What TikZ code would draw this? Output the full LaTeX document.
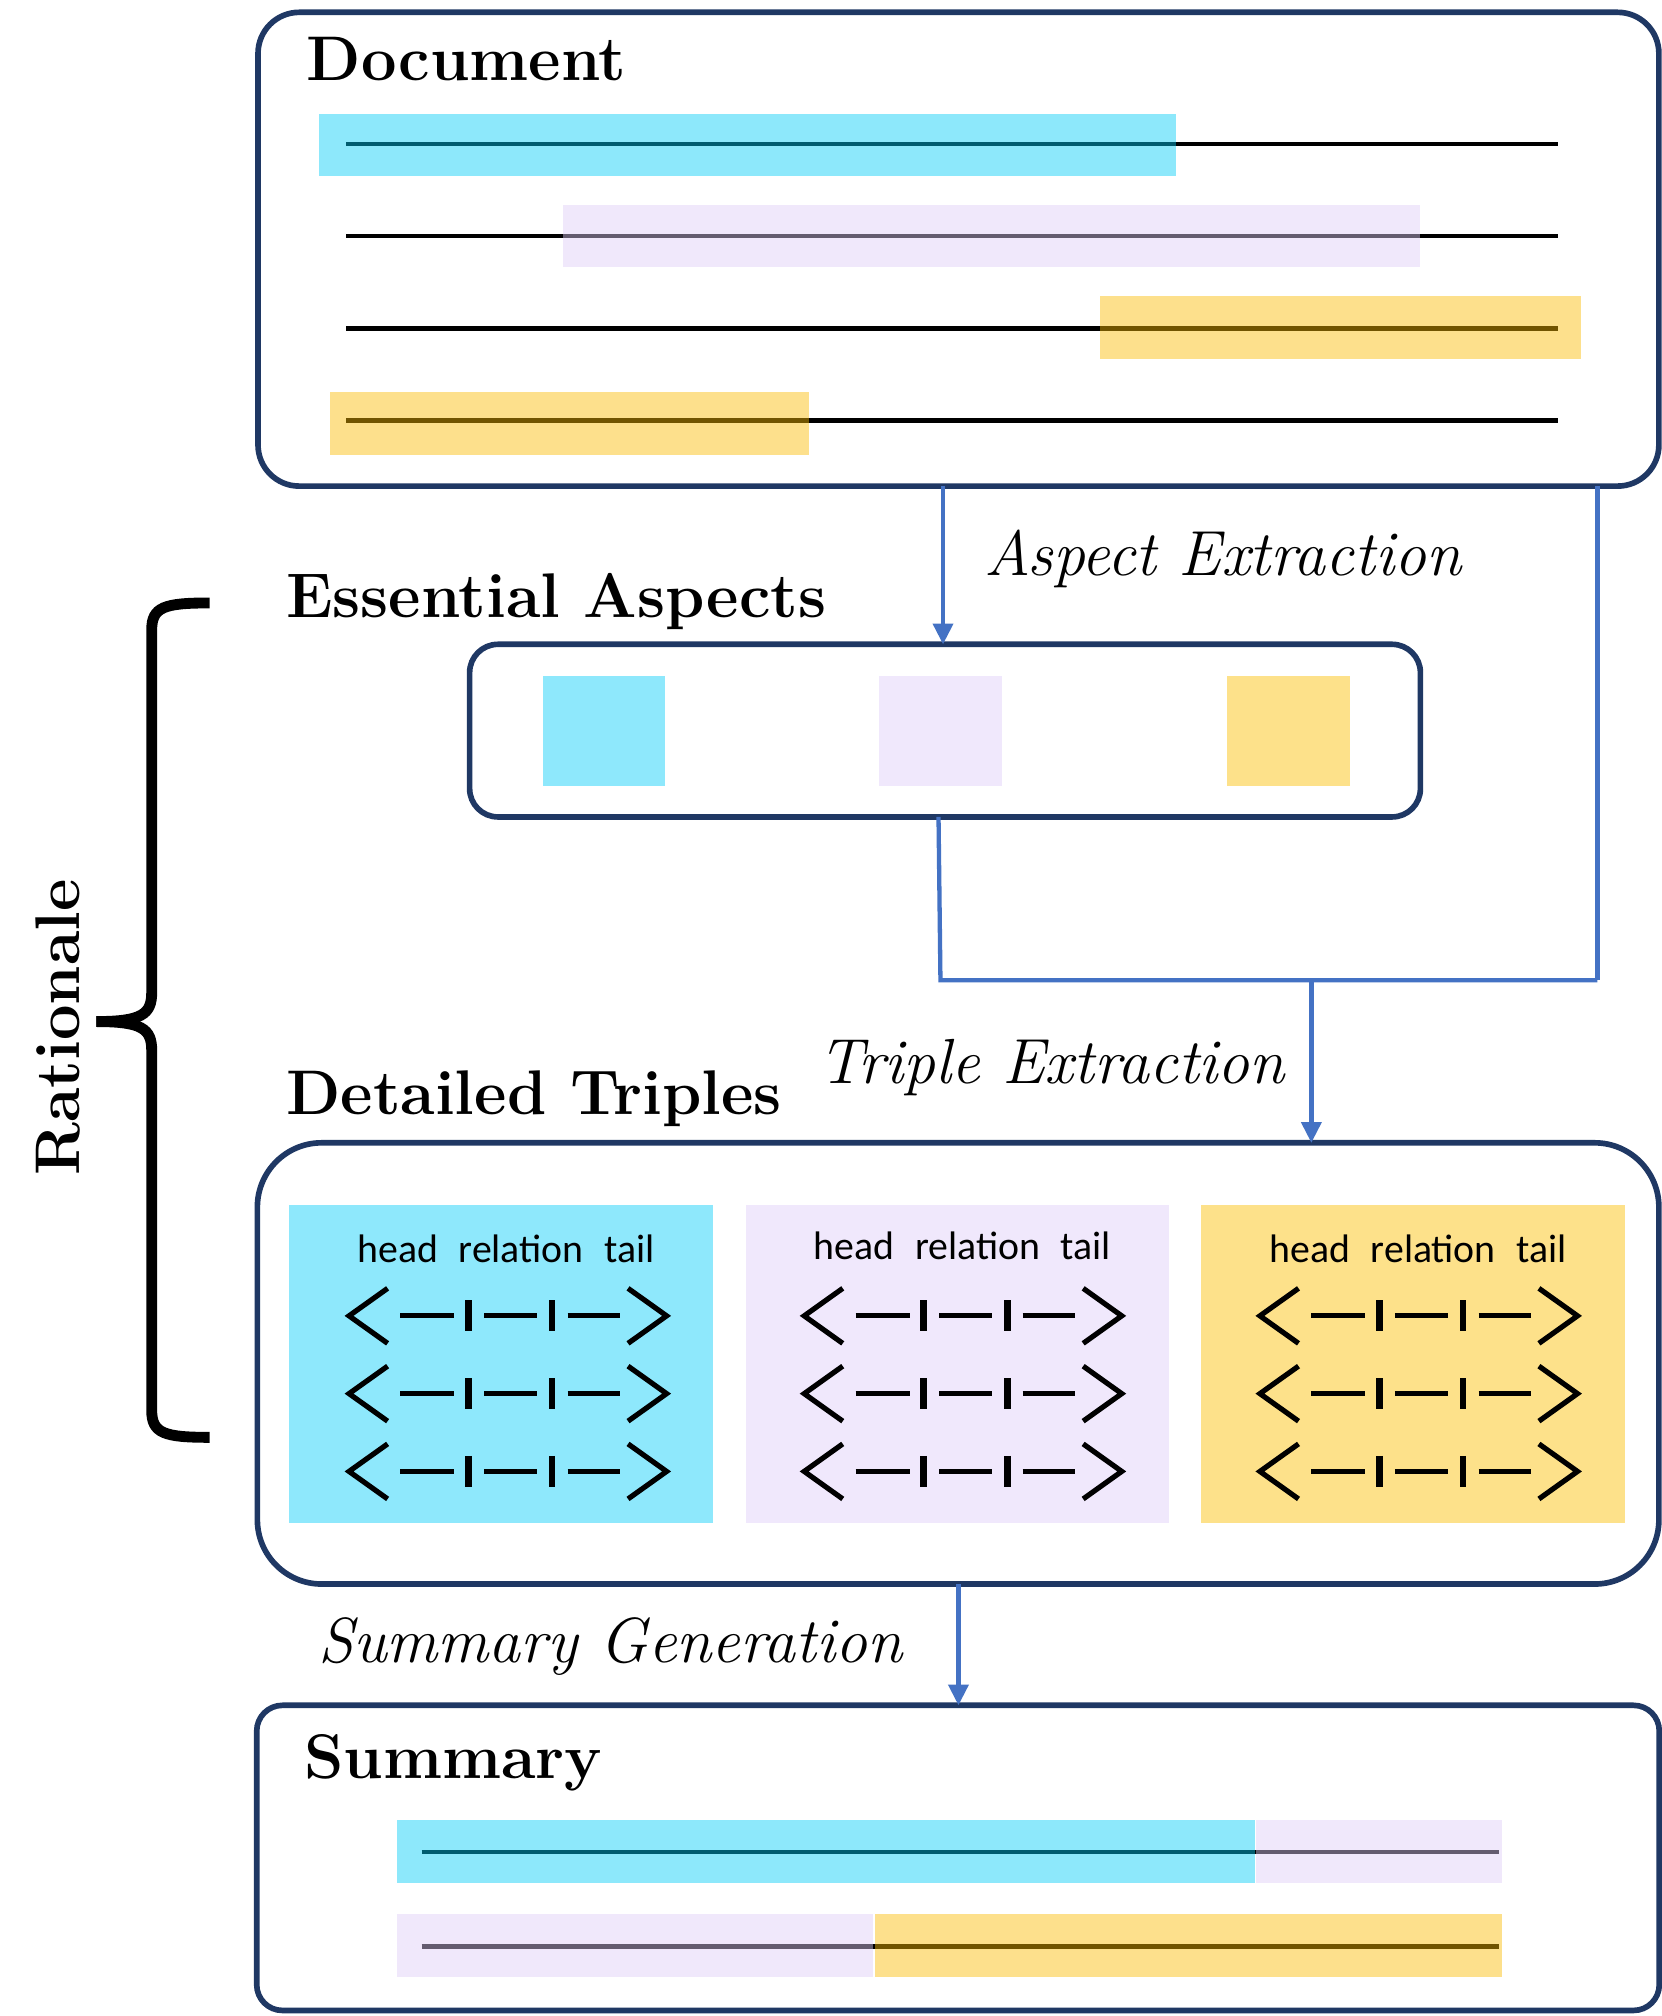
\documentclass[tikz,border=0pt]{standalone}
\usepackage{fontspec}
\newfontfamily\carlito{Carlito}
\usetikzlibrary{arrows.meta}
\definecolor{navy}{RGB}{31,56,100}
\definecolor{ablue}{RGB}{68,114,196}
\definecolor{scyan}{RGB}{142,232,252}
\definecolor{slav}{RGB}{240,232,252}
\definecolor{syel}{RGB}{253,225,138}
\definecolor{ocyan}{RGB}{4,204,248}
\definecolor{olav}{RGB}{222,204,248}
\definecolor{oyel}{RGB}{251,188,0}
\tikzset{
 box/.style={draw=navy, line width=1.25pt, inner sep=0pt, outer sep=0pt},
 heading/.style={font=\fontsize{13.95}{16}\selectfont\bfseries, inner sep=0pt, anchor=base west},
 lab/.style={font=\fontsize{14.1}{16}\selectfont\itshape, inner sep=0pt, anchor=base west},
 htr/.style={font=\carlito\fontsize{8.8}{10}\selectfont, inner sep=0pt, anchor=base},
 conn/.style={draw=ablue, line width=0.95pt},
 arr/.style={conn, -{Triangle[length=4.6pt,width=4.4pt]}},
 textline/.style={line width=1pt, black},
 glyph/.style={line width=1.15pt, line join=miter},
 dashbar/.style={line width=1.15pt},
 tickmark/.style={line width=1.45pt},
 bracket/.style={line width=2.4pt, line cap=butt},
 hl/.style={fill opacity=0.45},
}
\newcommand\tripglyph[2]{%
 \begin{scope}[shift={(#1,#2)}]
  \draw[glyph] (-93,-21.4) -- (-123,0) -- (-93,21.4);
  \draw[glyph] (94,-21.4) -- (124,0) -- (94,21.4);
  \draw[dashbar] (-83,0) -- (-41,0) (-18,0) -- (23,0) (47,0) -- (88,0);
  \draw[tickmark] (-30,-12) -- (-30,12) (35,-12) -- (35,12);
 \end{scope}}
\begin{document}
\begin{tikzpicture}[x=0.01cm,y=-0.01cm]
\fill[white] (0,0) rectangle (1292,1568.1);
\useasboundingbox (0,0) rectangle (1292,1568.1);

% Document
\foreach \yy in {112.2,183.4,255.6,327.2} \draw[textline] (269.5,\yy) -- (1212.2,\yy);
\fill[ocyan,hl] (248,88.5) rectangle (914.8,137.2);
\fill[olav,hl] (437.6,159.4) rectangle (1104.4,208);
\fill[oyel,hl] (855.5,230.3) rectangle (1229.6,278.9);
\fill[oyel,hl] (256.3,305.3) rectangle (629.6,353.9);
\node[box, rounded corners=0.32cm, minimum width=10.89cm, minimum height=3.683cm] (doc) at (745.5,193.85) {};
\node[heading] (tdoc) at (238,62.3) {Document};

% Essential aspects
\fill[scyan] (422,525.5) rectangle (517.5,611.5);
\fill[slav] (684,525.5) rectangle (779.6,611.5);
\fill[syel] (954.4,525.5) rectangle (1050,611.5);
\node[box, rounded corners=0.22cm, minimum width=7.391cm, minimum height=1.342cm] (ess) at (735.05,568.3) {};
\node[heading] (tess) at (222,480.3) {Essential Aspects};
\node[lab] (tasp) at (765,448) {Aspect Extraction};

% Detailed triples
\fill[scyan] (225,937.4) rectangle (554.7,1185);
\fill[slav] (580,937.4) rectangle (909,1185);
\fill[syel] (934,937.4) rectangle (1264,1185);
\node[htr] (ht1) at (393.5,982) {head\hspace{0.16cm}relation\hspace{0.16cm}tail};
\node[htr] (ht2) at (748.5,980) {head\hspace{0.16cm}relation\hspace{0.16cm}tail};
\node[htr] (ht3) at (1103,982) {head\hspace{0.16cm}relation\hspace{0.16cm}tail};
\foreach \xx in {394.5,748.5,1103} {
  \foreach \yy in {1023.5,1084,1144.5} { \tripglyph{\xx}{\yy} }
}
\node[box, rounded corners=0.5cm, minimum width=10.895cm, minimum height=3.43cm] (trip) at (745.25,1060.5) {};
\node[heading] (tdet) at (222,867) {Detailed Triples};
\node[lab] (ttri) at (636,842.8) {Triple Extraction};

% Summary
\draw[textline] (328,1440.6) -- (1166,1440.6);
\draw[textline] (328,1514) -- (1166,1514);
\fill[ocyan,hl] (308.6,1416) rectangle (975.9,1464.7);
\fill[olav,hl] (977.3,1416) rectangle (1168.4,1464.7);
\fill[olav,hl] (308.6,1489) rectangle (679,1537.8);
\fill[oyel,hl] (680.4,1489) rectangle (1168.4,1537.8);
\node[box, rounded corners=0.2cm, minimum width=10.903cm, minimum height=2.372cm] (summ) at (745.15,1445.1) {};
\node[heading] (tsum) at (236,1383) {Summary};
\node[lab] (tgen) at (247,1293) {Summary Generation};

% Rationale brace
\draw[bracket] (163,469) .. controls (128,469) and (118,472) .. (118,490) -- (118,772) .. controls (118,789) and (110,794.6) .. (75,794.6);
\draw[bracket] (75,794.6) .. controls (110,794.6) and (118,800) .. (118,817) -- (118,1097) .. controls (118,1115) and (128,1118) .. (163,1118);
\node[heading, rotate=90] (trat) at (62,915) {Rationale};

% connectors
\coordinate (c1) at (733.5,0);
\coordinate (jr) at (1242.5,762.4);
\coordinate (jl) at (731.5,762.4);
\coordinate (c3) at (730,0);
\coordinate (jm) at (1020,762.4);
\coordinate (c5) at (745.5,0);
\draw[arr] (doc.south -| c1) -- (ess.north -| c1);
\draw[conn] (doc.south -| jr) -- (jr);
\draw[conn] (ess.south -| c3) -- (jl) -- (jr);
\draw[arr] (jm) -- (trip.north -| jm);
\draw[arr] (trip.south -| c5) -- (summ.north -| c5);
\end{tikzpicture}
\end{document}
